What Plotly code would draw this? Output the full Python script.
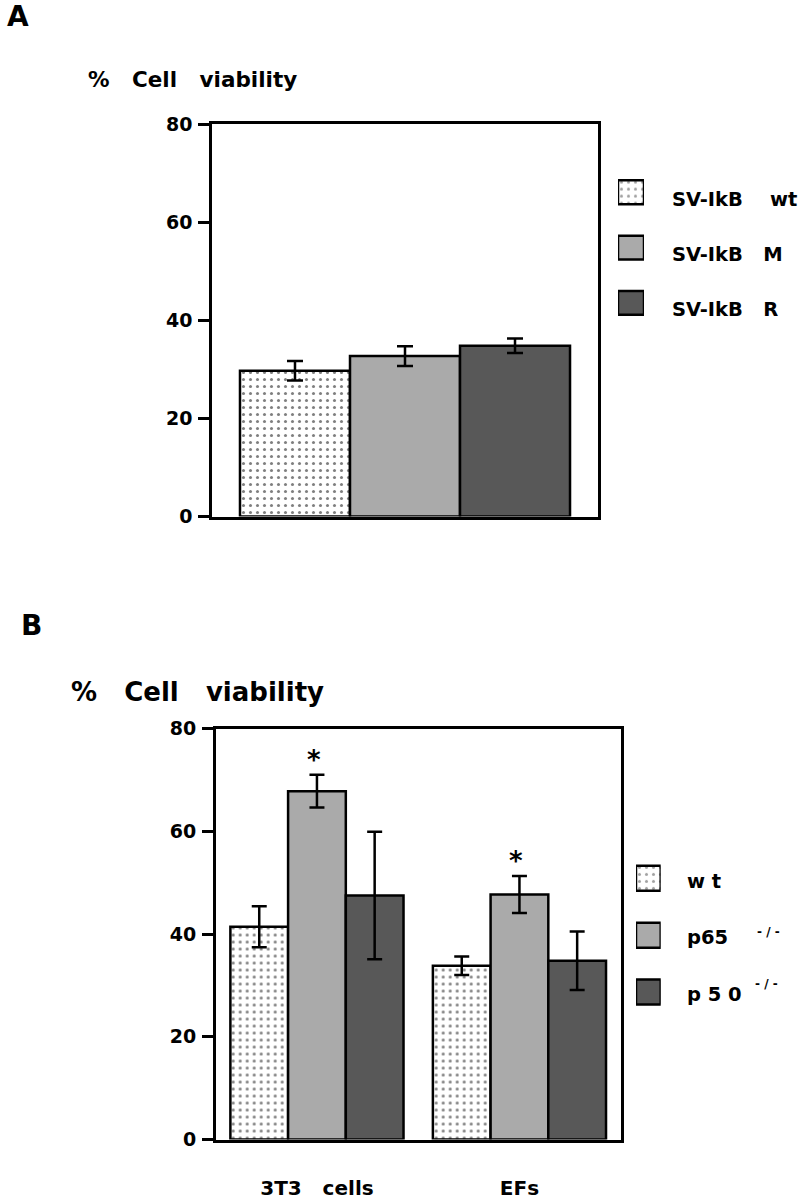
import plotly.graph_objects as go

# ---------------- data ----------------
a_series = ["SV-IkB   wt", "SV-IkB   M", "SV-IkB   R"]
a_category = ["SV-IkB"]
a_values = [29.7, 32.7, 34.8]
a_errors = [2.0, 2.0, 1.5]

b_categories = ["3T3   cells", "EFs"]
b_series = ["wt", "p65", "p50"]
b_wt = [41.4, 33.8]
b_wt_err = [4.0, 1.8]
b_p65 = [67.8, 47.7]
b_p65_err = [3.2, 3.6]
b_p50 = [47.5, 34.8]
b_p50_err = [12.4, 5.7]

y_ticks = [0, 20, 40, 60, 80]
y_ticktext = ["0", "20", "40", "60", "80"]

# ---------------- style ----------------
W, H = 800, 1200
FONT = "DejaVu Sans"
fills = ["white", "#aaaaaa", "#585858"]
patterns = [".", "", ""]
NB = "\u00a0"


def px(x):
    return x / W


def py(y):
    return 1 - y / H


def marker(i):
    return dict(
        color=fills[i],
        line=dict(color="black", width=2.5),
        pattern=dict(shape=patterns[i], fgcolor="black", bgcolor="white",
                     size=7, solidity=0.15, fillmode="overlay") if patterns[i] else None,
    )


fig = go.Figure()

# panel A bars
for i, (name, v, e) in enumerate(zip(a_series, a_values, a_errors)):
    fig.add_trace(go.Bar(
        x=a_category, y=[v], name=name, marker=marker(i),
        error_y=dict(type="data", array=[e], color="black", thickness=2.5, width=8),
        xaxis="x", yaxis="y", showlegend=False,
    ))

# panel B bars
b_vals = [b_wt, b_p65, b_p50]
b_errs = [b_wt_err, b_p65_err, b_p50_err]
for i, (name, v, e) in enumerate(zip(b_series, b_vals, b_errs)):
    fig.add_trace(go.Bar(
        x=[c.replace(" ", NB) for c in b_categories], y=v, name=name, marker=marker(i),
        error_y=dict(type="data", array=e, color="black", thickness=2.5, width=7.5),
        xaxis="x2", yaxis="y2", showlegend=False,
    ))


# legend swatches (horizontal bars on hidden axes)
def swatch_marker():
    return dict(
        color=fills,
        line=dict(color="black", width=2.5),
        pattern=dict(shape=patterns, fgcolor="black", bgcolor="white",
                     size=7, solidity=0.15, fillmode="overlay"),
    )


fig.add_trace(go.Bar(
    y=a_series, x=[1, 1, 1], orientation="h", width=0.43,
    marker=swatch_marker(), xaxis="x3", yaxis="y3", showlegend=False,
    hoverinfo="skip",
))
fig.add_trace(go.Bar(
    y=b_series, x=[1, 1, 1], orientation="h", width=0.44,
    marker=swatch_marker(), xaxis="x4", yaxis="y4", showlegend=False,
    hoverinfo="skip",
))

tickfont = dict(family=FONT, size=19, color="black", weight="bold")
yaxis_common = dict(
    range=[0, 80], tickvals=y_ticks, ticktext=y_ticktext, ticks="outside",
    ticklen=11, tickwidth=2.5, tickcolor="black", showline=True, linewidth=2.5,
    linecolor="black", mirror=True, showgrid=False, zeroline=False,
    tickfont=tickfont, ticklabelstandoff=2, fixedrange=True, automargin=False,
)
xaxis_common = dict(
    showline=True, linewidth=2.5, linecolor="black", mirror=True,
    showgrid=False, zeroline=False, ticks="", fixedrange=True, automargin=False,
)
hidden = dict(visible=False, fixedrange=True, automargin=False)

fig.update_layout(
    width=W, height=H,
    margin=dict(l=0, r=0, t=0, b=0, pad=0, autoexpand=False),
    paper_bgcolor="white", plot_bgcolor="white",
    barmode="group", bargap=0.145, bargroupgap=0,
    xaxis=dict(domain=[px(212), px(598)], anchor="y", range=[-0.5, 0.5],
               showticklabels=False, **xaxis_common),
    yaxis=dict(domain=[py(516.5), py(124)], anchor="x", **yaxis_common),
    xaxis2=dict(domain=[px(215.7), px(620.7)], anchor="y2", range=[-0.5, 1.5],
                tickfont=dict(family=FONT, size=20, color="black", weight="bold"),
                ticklabelstandoff=29, **xaxis_common),
    yaxis2=dict(domain=[py(1139.5), py(728.5)], anchor="x2", **yaxis_common),
    xaxis3=dict(domain=[px(618), px(644)], anchor="y3", range=[0, 1], **hidden),
    yaxis3=dict(domain=[py(330.6), py(164.6)], anchor="x3", autorange="reversed",
                categoryorder="array", categoryarray=a_series, **hidden),
    xaxis4=dict(domain=[px(636), px(660.7)], anchor="y4", range=[0, 1], **hidden),
    yaxis4=dict(domain=[py(1020.4), py(849.9)], anchor="x4", autorange="reversed",
                categoryorder="array", categoryarray=b_series, **hidden),
)

ann = []


def text(x, y, t, size, xanchor="left", yanchor="middle"):
    ann.append(dict(x=px(x), y=py(y), xref="paper", yref="paper", text=t,
                    showarrow=False, xanchor=xanchor, yanchor=yanchor,
                    font=dict(family=FONT, size=size, color="black", weight="bold")))


# panel letters
text(5, 17, "A", 28)
text(19, 625, "B", 28)
# y titles
text(86, 80, f"%{NB*3}Cell{NB*3}viability", 21.5)
text(69, 692, f"%{NB*3}Cell{NB*3}viability", 26)

# legend A labels
a_label_y = [200, 254.5, 309.7]
a_labels = [f"SV-IkB{NB*4}wt", f"SV-IkB{NB*3}M", f"SV-IkB{NB*3}R"]
for lab, yy in zip(a_labels, a_label_y):
    text(670, yy, lab, 19.5)

# legend B labels
b_labels = [f"w{NB}t", "p65", f"p{NB}5{NB}0"]
b_label_y = [881, 937, 994]
for lab, yy in zip(b_labels, b_label_y):
    text(685, yy, lab, 19.5)
text(755, 932, f"-{NB}/{NB}-", 12)
text(753, 984, f"-{NB}/{NB}-", 12)

# significance stars above p65 bars
for cat, v, e in zip(b_categories, b_p65, b_p65_err):
    ann.append(dict(x=cat.replace(" ", NB), y=v + e, xref="x2", yref="y2", text="*",
                    showarrow=False, xanchor="center", yanchor="middle",
                    yshift=15, xshift=-3,
                    font=dict(family=FONT, size=26, color="black", weight="bold")))

fig.update_layout(annotations=ann)

fig.write_html("out.html", config={"displayModeBar": False},
               post_script="document.body.style.margin='0';")
